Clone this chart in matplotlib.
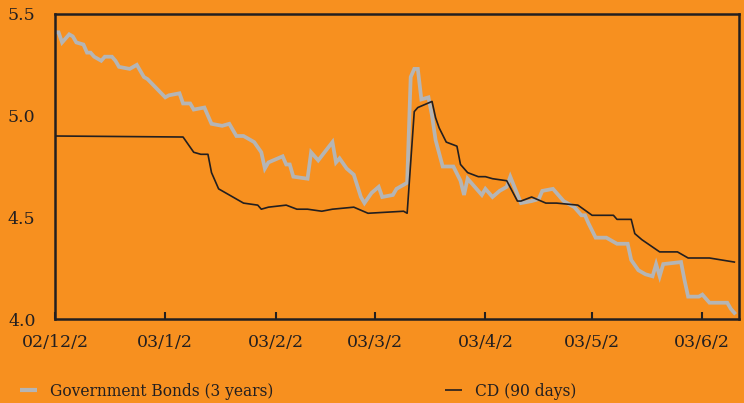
import matplotlib
matplotlib.use("Agg")
import matplotlib.pyplot as plt
import pandas as pd
from matplotlib.lines import Line2D

start = pd.Timestamp("2002-12-02")

gov_days = [0, 1, 2, 4, 5, 6, 8, 9, 10, 11, 13, 14, 16, 17, 18, 21, 23, 25, 26, 31,
            32, 35, 36, 38, 39, 42, 44, 47, 49, 51, 53, 56, 58, 59, 60, 64, 65, 66, 67, 71,
            72, 74, 78, 79, 80, 82, 84, 86, 87, 89, 91, 92, 95, 96, 99, 100, 101, 102, 103,
            105, 106, 107, 109, 112, 114, 115, 116, 120, 121, 123, 125, 127, 128, 131, 134,
            136, 137, 140, 143, 146, 148, 149, 150, 152, 155, 158, 161, 162, 164, 166, 168,
            169, 170, 171, 176, 177, 178, 181, 182, 184, 189, 190, 191]
gov_vals = [5.41, 5.41, 5.36, 5.40, 5.39, 5.36, 5.35, 5.31, 5.31, 5.29, 5.27, 5.29, 5.29, 5.27,
            5.24, 5.23, 5.25, 5.19, 5.18, 5.09, 5.10, 5.11, 5.06, 5.06, 5.03, 5.04, 4.96, 4.95,
            4.96, 4.90, 4.90, 4.87, 4.82, 4.74, 4.77, 4.80, 4.76, 4.76, 4.70, 4.69, 4.82, 4.78,
            4.87, 4.77, 4.79, 4.74, 4.71, 4.60, 4.57, 4.62, 4.65, 4.60, 4.61, 4.64, 4.67, 5.19,
            5.23, 5.23, 5.08, 5.09, 5.00, 4.88, 4.75, 4.75, 4.68, 4.61, 4.69, 4.61, 4.64, 4.60,
            4.63, 4.65, 4.70, 4.57, 4.58, 4.59, 4.63, 4.64, 4.58, 4.55, 4.51, 4.51, 4.47, 4.40,
            4.40, 4.37, 4.37, 4.29, 4.24, 4.22, 4.21, 4.27, 4.21, 4.27, 4.28, 4.19, 4.11, 4.11,
            4.12, 4.08, 4.08, 4.05, 4.03]

cd_days = [0, 36, 37, 39, 41, 43, 44, 46, 50, 53, 57, 58, 60, 65, 68, 71, 75, 78, 84, 88,
           98, 99, 101, 102, 106, 107, 108, 110, 113, 114, 116, 119, 121, 123, 127, 130, 131,
           134, 138, 141, 147, 151, 157, 158, 162, 163, 165, 170, 175, 178, 184, 191]
cd_vals = [4.90, 4.895, 4.87, 4.82, 4.81, 4.81, 4.72, 4.64, 4.60, 4.57, 4.56, 4.54, 4.55, 4.56,
           4.54, 4.54, 4.53, 4.54, 4.55, 4.52, 4.53, 4.52, 5.02, 5.04, 5.07, 4.99, 4.94, 4.87,
           4.85, 4.76, 4.72, 4.70, 4.70, 4.69, 4.68, 4.58, 4.58, 4.60, 4.57, 4.57, 4.56, 4.51,
           4.51, 4.49, 4.49, 4.42, 4.39, 4.33, 4.33, 4.30, 4.30, 4.28]

tick_dates = ["2002-12-02", "2003-01-02", "2003-02-02", "2003-03-02", "2003-04-02",
              "2003-05-02", "2003-06-02"]
tick_labels = ["02/12/2", "03/1/2", "03/2/2", "03/3/2", "03/4/2", "03/5/2", "03/6/2"]
y_ticks = [4.0, 4.5, 5.0, 5.5]
y_labels = ["4.0", "4.5", "5.0", "5.5"]
series_names = ["Government Bonds (3 years)", "CD (90 days)"]

gov_dates = start + pd.to_timedelta(gov_days, unit="D")
cd_dates = start + pd.to_timedelta(cd_days, unit="D")

BG = "#F7901F"
GRAY = "#B5B5B5"
DARK = "#231F20"
FONT = "DejaVu Serif"

fig = plt.figure(figsize=(7.44, 4.03), dpi=100, facecolor=BG)
ax = fig.add_axes([55 / 744, 1 - 319 / 403, (739 - 55) / 744, (319 - 14) / 403])
ax.set_facecolor(BG)

ax.plot(gov_dates, gov_vals, color=GRAY, lw=2.7, solid_joinstyle="miter")
ax.plot(cd_dates, cd_vals, color=DARK, lw=1.2)

ax.set_ylim(4.0, 5.5)
ax.set_xlim(start, start + pd.Timedelta(days=192.3))

for s in ax.spines.values():
    s.set_color(DARK)
    s.set_linewidth(1.8)

ax.set_xticks(pd.to_datetime(tick_dates))
ax.set_xticklabels(tick_labels, family=FONT, fontsize=12.5, color=DARK)
ax.set_yticks(y_ticks)
ax.set_yticklabels(y_labels, family=FONT, fontsize=12.5, color=DARK)
ax.tick_params(axis="x", direction="in", length=5, width=1.5, color=DARK, pad=10.5)
ax.tick_params(axis="y", length=0, pad=14)

h1 = [Line2D([], [], color=GRAY, lw=3, solid_capstyle="butt")]
h2 = [Line2D([], [], color=DARK, lw=1.2, solid_capstyle="butt")]
common = dict(loc="center left", frameon=False, handlelength=1.09, handletextpad=0.84,
              borderaxespad=0, borderpad=0, prop={"family": FONT, "size": 11.2},
              labelcolor=DARK)
fig.legend(h1, [series_names[0]], bbox_to_anchor=(20 / 744, 1 - 391 / 403), **common)
fig.legend(h2, [series_names[1]], bbox_to_anchor=(445 / 744, 1 - 391 / 403), **common)

fig.savefig("out.png", dpi=100, facecolor=BG)
